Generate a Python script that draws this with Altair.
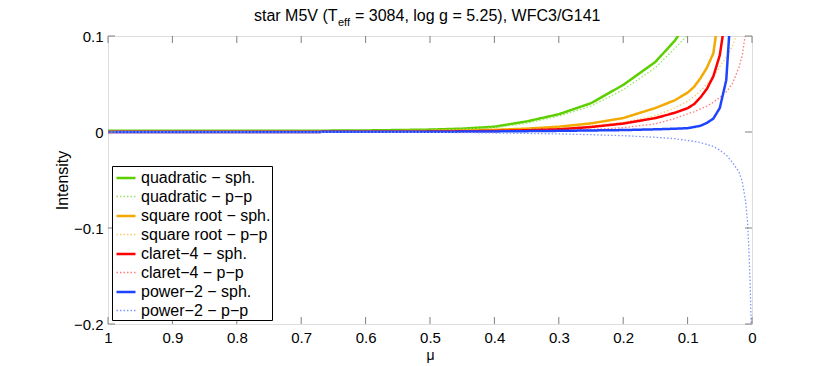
import altair as alt
import pandas as pd

# ---- data ----
mu = [1.0, 0.9, 0.8, 0.7, 0.6, 0.5, 0.45, 0.4, 0.35, 0.3, 0.25, 0.2, 0.15, 0.12,
      0.1, 0.09, 0.08, 0.07, 0.06, 0.05, 0.04, 0.035, 0.03, 0.02, 0.015, 0.01,
      0.007, 0.005, 0.003, 0.002, 0.001, 0.0]

quad_sph = [0.0012, 0.0012, 0.0012, 0.0013, 0.0016, 0.0025, 0.0035, 0.0055, 0.011, 0.0185,
            0.030, 0.049, 0.073, 0.095, 0.115] + [None] * 17
quad_pp = [0.0006, 0.0006, 0.0007, 0.0008, 0.0011, 0.0018, 0.0028, 0.0045, 0.009, 0.0165,
           0.027, 0.044, 0.067, 0.087, 0.101, 0.112] + [None] * 16
sqrt_sph = [0.0004, 0.0004, 0.0004, 0.0005, 0.0007, 0.0011, 0.0015, 0.0022, 0.0035, 0.0055,
            0.009, 0.0145, 0.025, 0.033, 0.041, 0.047, 0.056, 0.067, 0.082, 0.13] + [None] * 12
sqrt_pp = [0.0002, 0.0002, 0.0002, 0.0003, 0.0004, 0.0007, 0.001, 0.0014, 0.0025, 0.004,
           0.0065, 0.010, 0.017, 0.025, 0.032, 0.037, 0.043, 0.050, 0.058, 0.068, 0.078,
           0.084, 0.090, 0.108] + [None] * 8
claret_sph = [0.0, 0.0, 0.0, 0.0001, 0.0002, 0.0004, 0.0007, 0.0011, 0.0018, 0.0028,
              0.0052, 0.0088, 0.0145, 0.020, 0.0248, 0.029, 0.036, 0.045, 0.058, 0.080,
              0.125] + [None] * 11
claret_pp = [0.0, 0.0, 0.0, 0.0, 0.0001, 0.0002, 0.0003, 0.0005, 0.0008, 0.0012,
             0.0025, 0.0045, 0.0085, 0.014, 0.019, 0.021, 0.024, 0.027, 0.031, 0.036,
             0.042, 0.046, 0.051, 0.068, 0.080, 0.104] + [None] * 6
power_sph = [0.0, 0.0, 0.0001, 0.0001, 0.0002, 0.0003, 0.0004, 0.0006, 0.0009, 0.0012,
             0.0016, 0.002, 0.0028, 0.0034, 0.004, 0.0052, 0.0065, 0.0095, 0.014, 0.025,
             0.054, 0.105] + [None] * 10
power_pp = [0.0, 0.0, 0.0, -0.0001, -0.0002, -0.0003, -0.0006, -0.001, -0.0015, -0.002,
            -0.0028, -0.0038, -0.0055, -0.007, -0.0088, -0.0098, -0.011, -0.013, -0.015,
            -0.019, -0.024, -0.028, -0.032, -0.042, -0.052, -0.072, -0.093, -0.12, -0.155,
            -0.18, -0.21, None]

series_names = ["quadratic \u2212 sph.", "quadratic \u2212 p\u2212p",
                "square root \u2212 sph.", "square root \u2212 p\u2212p",
                "claret\u22124 \u2212 sph.", "claret\u22124 \u2212 p\u2212p",
                "power\u22122 \u2212 sph.", "power\u22122 \u2212 p\u2212p"]
series_values = [quad_sph, quad_pp, sqrt_sph, sqrt_pp, claret_sph, claret_pp, power_sph, power_pp]

x_ticks = [1.0, 0.9, 0.8, 0.7, 0.6, 0.5, 0.4, 0.3, 0.2, 0.1, 0.0]
y_ticks = [-0.2, -0.1, 0.0, 0.1]

# ---- styles ----
colors = ["#5ccf00", "#9ee26a", "#f2a900", "#f8cf6a", "#ff0000", "#ff7a7a", "#1f44ff", "#8095ff"]
dashes = [[1, 0], [1.5, 2], [1, 0], [1.5, 2], [1, 0], [1.5, 2], [1, 0], [1.5, 2]]
widths = [2.5, 1.3, 2.5, 1.3, 2.5, 1.3, 2.5, 1.3]

W, H = 644, 288
FONT = "Liberation Sans"
FRAME = "#808080"

rows = []
for name, vals in zip(series_names, series_values):
    for m, v in zip(mu, vals):
        rows.append({"mu": m, "val": v, "series": name})
df = pd.DataFrame(rows)

xscale = alt.Scale(domain=[0, 1], reverse=True)
yscale = alt.Scale(domain=[-0.2, 0.1])

lines = alt.Chart(df).mark_line(clip=True, strokeCap="butt", interpolate="linear").encode(
    x=alt.X("mu:Q", scale=xscale,
            axis=alt.Axis(values=x_ticks, format="~g", title="\u03bc", ticks=False,
                          domain=False, grid=False, labelFontSize=15, labelFont=FONT,
                          labelColor="black", labelPadding=6, titleFontSize=14,
                          titleFont=FONT, titleFontWeight="normal", titlePadding=3,
                          labelFlush=False)),
    y=alt.Y("val:Q", scale=yscale,
            axis=alt.Axis(values=y_ticks, format="~g", title="Intensity", ticks=False,
                          domain=False, grid=False, labelFontSize=15, labelFont=FONT,
                          labelColor="black", labelPadding=5, titleFontSize=16,
                          titleFont=FONT, titleFontWeight="normal", titlePadding=3)),
    color=alt.Color("series:N", scale=alt.Scale(domain=series_names, range=colors),
                    legend=alt.Legend(title=None, orient="none", legendX=4, legendY=130,
                                      fillColor="white", strokeColor="black", padding=1,
                                      symbolOffset=2,
                                      symbolType="stroke", symbolSize=361,
                                      labelFontSize=16, labelFont=FONT, labelColor="black",
                                      rowPadding=0, labelOffset=4,
                                      labelExpr="datum.label + '\u2003'")),
    strokeDash=alt.StrokeDash("series:N", scale=alt.Scale(domain=series_names, range=dashes)),
    strokeWidth=alt.StrokeWidth("series:N", scale=alt.Scale(type="ordinal", domain=series_names,
                                                            range=widths)),
    order=alt.Order("mu:Q"),
)

xt = pd.DataFrame({"t": x_ticks})
yt = pd.DataFrame({"t": y_ticks})
tick_style = dict(color=FRAME, strokeWidth=1)
xtick_bot = alt.Chart(xt).mark_rule(**tick_style).encode(
    x=alt.X("t:Q", scale=xscale), y=alt.value(H), y2=alt.value(H - 7))
xtick_top = alt.Chart(xt).mark_rule(**tick_style).encode(
    x=alt.X("t:Q", scale=xscale), y=alt.value(0), y2=alt.value(7))
ytick_l = alt.Chart(yt).mark_rule(**tick_style).encode(
    y=alt.Y("t:Q", scale=yscale), x=alt.value(0), x2=alt.value(7))
ytick_r = alt.Chart(yt).mark_rule(**tick_style).encode(
    y=alt.Y("t:Q", scale=yscale), x=alt.value(W), x2=alt.value(W - 7))

title_df = pd.DataFrame({"a": [0]})
t1 = alt.Chart(title_df).mark_text(text="star M5V (T", align="left", baseline="alphabetic",
                                   fontSize=16, font=FONT, color="black").encode(
    x=alt.value(146), y=alt.value(-15))
t2 = alt.Chart(title_df).mark_text(text="eff", align="left", baseline="alphabetic",
                                   fontSize=11, font=FONT, color="black").encode(
    x=alt.value(230), y=alt.value(-10))
t3 = alt.Chart(title_df).mark_text(text="= 3084, log g = 5.25), WFC3/G141", align="left",
                                   baseline="alphabetic", fontSize=16, font=FONT,
                                   color="black").encode(
    x=alt.value(247), y=alt.value(-15))

chart = alt.layer(lines, xtick_bot, xtick_top, ytick_l, ytick_r, t1, t2, t3).properties(
    width=W, height=H,
    autosize=alt.AutoSizeParams(type="none"),
    padding={"left": 100, "top": 28, "right": 70, "bottom": 42},
).configure_view(stroke=FRAME, strokeWidth=1.5).configure(background="white")

chart.save("out.html", embed_options={"renderer": "svg", "actions": False})
